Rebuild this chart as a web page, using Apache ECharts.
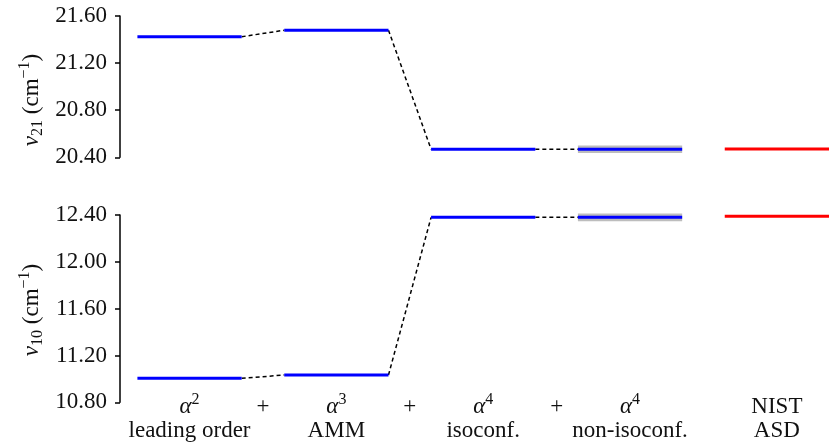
<!DOCTYPE html>
<html>
<head>
<meta charset="utf-8">
<script src="https://cdn.jsdelivr.net/npm/echarts@6/dist/echarts.min.js"></script>
<style>
  html, body { margin: 0; padding: 0; background: #fff; }
  #chart { width: 829px; height: 448px; }
</style>
</head>
<body>
<div id="chart"></div>
<script>
// Successive contributions shown along the horizontal axis
const orders = ['2', '3', '4', '4'];
const stageNames = ['leading order', 'AMM', 'isoconf.', 'non-isoconf.'];
const refName = ['NIST', 'ASD'];

// nu_21 interval (cm^-1) after each contribution
const nu21 = [21.424, 21.479, 20.468, 20.468];
const nu21Err = [0, 0, 0, 0.032];
const nu21Ref = 20.470;
const nu21Ticks = [20.40, 20.80, 21.20, 21.60];

// nu_10 interval (cm^-1) after each contribution
const nu10 = [11.005, 11.033, 12.380, 12.380];
const nu10Err = [0, 0, 0, 0.033];
const nu10Ref = 12.389;
const nu10Ticks = [10.80, 11.20, 11.60, 12.00, 12.40];

const FONT = '"Liberation Serif", "DejaVu Serif", serif';
const HALF = 0.355;          // half length of each level bar, in stage units
const X_MIN = -0.4736, X_MAX = 4 + HALF;

function levelSeries(grid, vals, errs, ref) {
  const out = [];
  // uncertainty bands
  const bandData = [];
  vals.forEach((v, i) => { if (errs[i] > 0) bandData.push([i, v, errs[i]]); });
  out.push({
    type: 'custom', xAxisIndex: grid, yAxisIndex: grid, z: 1, silent: true,
    data: bandData,
    renderItem: (params, api) => {
      const i = api.value(0), v = api.value(1), e = api.value(2);
      const p1 = api.coord([i - HALF, v + e]);
      const p2 = api.coord([i + HALF, v - e]);
      return { type: 'rect', shape: { x: p1[0], y: p1[1], width: p2[0] - p1[0], height: p2[1] - p1[1] },
               style: { fill: '#bdbdbd' } };
    }
  });
  // level bars
  vals.forEach((v, i) => {
    out.push({
      type: 'line', xAxisIndex: grid, yAxisIndex: grid, z: 3, symbol: 'none', silent: true, clip: false,
      data: [[i - HALF, v], [i + HALF, v]],
      lineStyle: { color: '#0000ff', width: 3 }
    });
  });
  // dashed connectors between successive stages
  for (let i = 0; i < vals.length - 1; i++) {
    out.push({
      type: 'line', xAxisIndex: grid, yAxisIndex: grid, z: 2, symbol: 'none', silent: true, clip: false,
      data: [[i + HALF, vals[i]], [i + 1 - HALF, vals[i + 1]]],
      lineStyle: { color: '#000', width: 1.5, type: [4, 3] }
    });
  }
  // reference value
  out.push({
    type: 'line', xAxisIndex: grid, yAxisIndex: grid, z: 3, symbol: 'none', silent: true, clip: false,
    data: [[4 - HALF, ref], [4 + HALF, ref]],
    lineStyle: { color: '#ff0000', width: 3 }
  });
  return out;
}

function yAxisFor(grid, ticks) {
  return {
    type: 'value', gridIndex: grid,
    min: ticks[0], max: ticks[ticks.length - 1], interval: 0.4,
    splitLine: { show: false },
    axisLine: { show: true, onZero: false, lineStyle: { color: '#000', width: 1.5 } },
    axisTick: { show: true, length: 5, lineStyle: { color: '#000', width: 1.5 } },
    axisLabel: { margin: 13, fontFamily: FONT, fontSize: 23, color: '#111',
                 formatter: v => v.toFixed(2) }
  };
}

const labelRich = {
  m:   { fontFamily: FONT, fontStyle: 'italic', fontSize: 23, lineHeight: 24, color: '#111' },
  sup: { fontFamily: FONT, fontSize: 16, lineHeight: 24, padding: [0, 0, 16, 0], color: '#111' },
  t:   { fontFamily: FONT, fontSize: 23, lineHeight: 24, color: '#111' }
};

function stageLabel(value) {
  const v = Math.round(value * 2) / 2;
  if (v !== Math.round(v)) return '{t|+}\n{t| }';
  if (v === 4) return '{t|' + refName[0] + '}\n{t|' + refName[1] + '}';
  return '{m|α}{sup|' + orders[v] + '}\n{t|' + stageNames[v] + '}';
}

const axisTitleRich = {
  i:   { fontFamily: FONT, fontStyle: 'italic', fontSize: 23, lineHeight: 26, color: '#111' },
  sub: { fontFamily: FONT, fontSize: 16, lineHeight: 26, padding: [12, 0, 0, 0], color: '#111' },
  sup: { fontFamily: FONT, fontSize: 16, lineHeight: 26, padding: [0, 0, 14, 0], color: '#111' },
  r:   { fontFamily: FONT, fontSize: 23, lineHeight: 26, color: '#111' }
};

function axisTitle(x, y, sub) {
  return {
    type: 'text', x: x, y: y, rotation: Math.PI / 2, silent: true,
    style: {
      text: '{i|ν}{sub|' + sub + '}{r| (cm}{sup|−1}{r|)}',
      rich: axisTitleRich, align: 'center', verticalAlign: 'middle',
      fontFamily: FONT, fontSize: 23, fill: '#111'
    }
  };
}

const chart = echarts.init(document.getElementById('chart'), null, { renderer: 'canvas' });
chart.setOption({
  animation: false,
  backgroundColor: '#fff',
  grid: [
    { left: 120, right: 0, top: 16, height: 141.3 },
    { left: 120, right: 0, top: 215, height: 187.3 }
  ],
  xAxis: [
    { type: 'value', gridIndex: 0, min: X_MIN, max: X_MAX, show: false },
    { type: 'value', gridIndex: 1, min: X_MIN, max: X_MAX,
      splitLine: { show: false }, axisLine: { show: false }, axisTick: { show: false },
      axisLabel: { customValues: [0, 0.5, 1, 1.5, 2, 2.5, 3, 4], margin: -7,
                   formatter: stageLabel, rich: labelRich, fontFamily: FONT, fontSize: 23, color: '#111' } }
  ],
  yAxis: [yAxisFor(0, nu21Ticks), yAxisFor(1, nu10Ticks)],
  series: [].concat(levelSeries(0, nu21, nu21Err, nu21Ref), levelSeries(1, nu10, nu10Err, nu10Ref)),
  graphic: [axisTitle(32, 100, '21'), axisTitle(32, 310, '10')]
});
</script>
</body>
</html>
